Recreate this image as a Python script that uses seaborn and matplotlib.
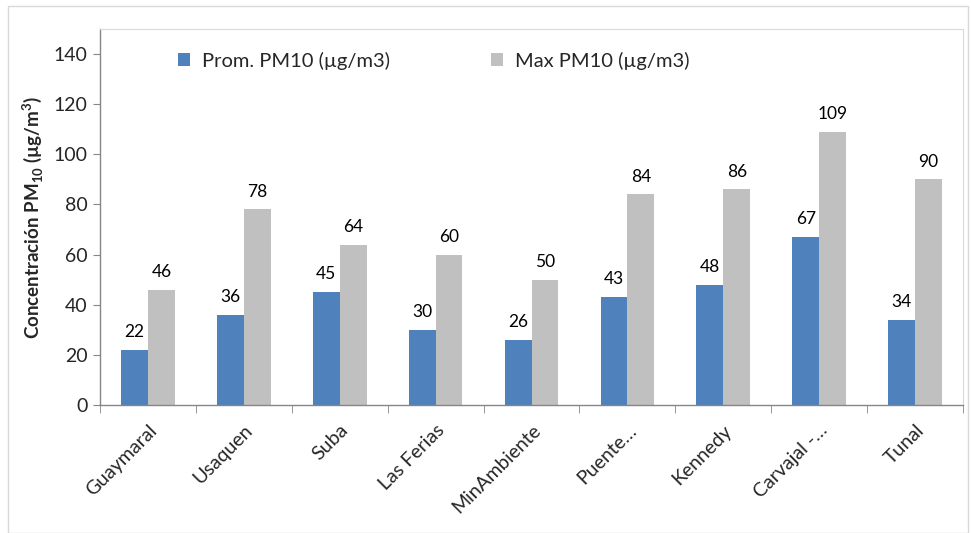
import matplotlib
matplotlib.use("Agg")
import matplotlib.pyplot as plt
import seaborn as sns
import pandas as pd
from matplotlib.patches import Rectangle

stations = ["Guaymaral", "Usaquen", "Suba", "Las Ferias", "MinAmbiente",
            "Puente…", "Kennedy", "Carvajal -…", "Tunal"]
prom_pm10 = [22, 36, 45, 30, 26, 43, 48, 67, 34]
max_pm10 = [46, 78, 64, 60, 50, 84, 86, 109, 90]
series_names = ["Prom. PM10 (µg/m3)", "Max PM10 (µg/m3)"]
y_ticks = [0, 20, 40, 60, 80, 100, 120, 140]

df = pd.DataFrame({
    "Estación": stations * 2,
    "Valor": prom_pm10 + max_pm10,
    "Serie": [series_names[0]] * len(stations) + [series_names[1]] * len(stations),
})

sns.set_style("white")
plt.rcParams["font.family"] = ["Lato", "DejaVu Sans"]
plt.rcParams["mathtext.fontset"] = "custom"
plt.rcParams["mathtext.rm"] = "Lato"
plt.rcParams["mathtext.bf"] = "Lato:bold"

fig = plt.figure(figsize=(9.71, 5.33), dpi=100)
fig.patches.append(Rectangle((8 / 971, 0), 960 / 971, 1 - 6 / 533, transform=fig.transFigure,
                             fill=False, edgecolor="#d9d9d9", linewidth=1.0))
ax = fig.add_axes([100 / 971, 1 - 405 / 533, 863 / 971, 376 / 533])

palette = {series_names[0]: "#4F81BD", series_names[1]: "#C0C0C0"}
sns.barplot(data=df, x="Estación", y="Valor", hue="Serie", palette=palette,
            width=0.56, gap=0, saturation=1, ax=ax, legend=True, linewidth=0)

for container in ax.containers:
    ax.bar_label(container, labels=[f"{v:.0f}" for v in container.datavalues],
                 padding=7, fontsize=12.5, color="#000000")

ax.set_ylim(0, 150)
ax.set_xlim(-0.5, len(stations) - 0.5)
ax.set_yticks(y_ticks)
ax.set_yticklabels([str(t) for t in y_ticks], fontsize=14)
ax.set_xticks(range(len(stations)))
ax.set_xticklabels(stations, rotation=45, ha="right", rotation_mode="anchor", fontsize=14)
ax.set_xticks([i - 0.5 for i in range(len(stations) + 1)], minor=True)
ax.tick_params(axis="x", which="major", length=0, pad=12)
ax.tick_params(axis="x", which="minor", length=6, color="#868686", direction="out", bottom=True)
ax.tick_params(axis="y", length=5, color="#868686", direction="out", left=True, pad=4)
ax.set_xlabel("")
ax.set_ylabel(r"Concentración PM$_\mathbf{10}$ (µg/m$^\mathbf{3}$)", fontsize=13.5,
              fontweight="bold", labelpad=6)

for side in ["top", "right"]:
    ax.spines[side].set_visible(True)
    ax.spines[side].set_color("#d9d9d9")
    ax.spines[side].set_linewidth(0.8)
for side in ["left", "bottom"]:
    ax.spines[side].set_color("#868686")
    ax.spines[side].set_linewidth(1.0)

leg = ax.legend(loc="upper left", bbox_to_anchor=(0.09, 0.94), ncol=2, frameon=False,
                fontsize=14.5, handlelength=0.6, handleheight=0.6, handletextpad=0.6,
                columnspacing=5.0, borderpad=0, borderaxespad=0)

fig.savefig("out.png", dpi=100)
